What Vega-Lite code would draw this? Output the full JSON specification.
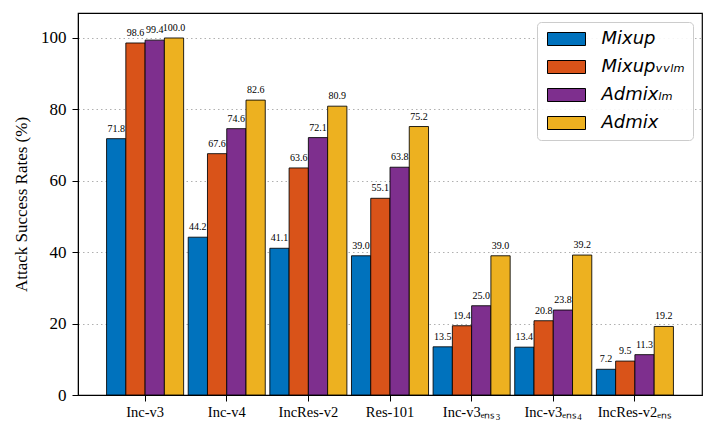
{
  "$schema": "https://vega.github.io/schema/vega-lite/v6.json",
  "autosize": {"type": "none"},
  "padding": {"left": 78, "top": 13, "right": 13, "bottom": 42},
  "width": 624,
  "height": 382,
  "background": "white",
  "config": {
    "view": {"stroke": "black", "strokeWidth": 1.2},
    "axis": {
      "labelFont": "Liberation Serif",
      "titleFont": "Liberation Serif",
      "labelColor": "black",
      "titleColor": "black",
      "domainColor": "black",
      "tickColor": "black",
      "tickSize": 6,
      "titleFontWeight": "normal"
    }
  },
  "data": {
    "values": [
      {"model": "Inc-v3", "method": "Mixup", "value": 71.8},
      {"model": "Inc-v3", "method": "Mixup_wlm", "value": 98.6},
      {"model": "Inc-v3", "method": "Admix_lm", "value": 99.4},
      {"model": "Inc-v3", "method": "Admix", "value": 100.0},
      {"model": "Inc-v4", "method": "Mixup", "value": 44.2},
      {"model": "Inc-v4", "method": "Mixup_wlm", "value": 67.6},
      {"model": "Inc-v4", "method": "Admix_lm", "value": 74.6},
      {"model": "Inc-v4", "method": "Admix", "value": 82.6},
      {"model": "IncRes-v2", "method": "Mixup", "value": 41.1},
      {"model": "IncRes-v2", "method": "Mixup_wlm", "value": 63.6},
      {"model": "IncRes-v2", "method": "Admix_lm", "value": 72.1},
      {"model": "IncRes-v2", "method": "Admix", "value": 80.9},
      {"model": "Res-101", "method": "Mixup", "value": 39.0},
      {"model": "Res-101", "method": "Mixup_wlm", "value": 55.1},
      {"model": "Res-101", "method": "Admix_lm", "value": 63.8},
      {"model": "Res-101", "method": "Admix", "value": 75.2},
      {"model": "Inc-v3_ens3", "method": "Mixup", "value": 13.5},
      {"model": "Inc-v3_ens3", "method": "Mixup_wlm", "value": 19.4},
      {"model": "Inc-v3_ens3", "method": "Admix_lm", "value": 25.0},
      {"model": "Inc-v3_ens3", "method": "Admix", "value": 39.0},
      {"model": "Inc-v3_ens4", "method": "Mixup", "value": 13.4},
      {"model": "Inc-v3_ens4", "method": "Mixup_wlm", "value": 20.8},
      {"model": "Inc-v3_ens4", "method": "Admix_lm", "value": 23.8},
      {"model": "Inc-v3_ens4", "method": "Admix", "value": 39.2},
      {"model": "IncRes-v2_ens", "method": "Mixup", "value": 7.2},
      {"model": "IncRes-v2_ens", "method": "Mixup_wlm", "value": 9.5},
      {"model": "IncRes-v2_ens", "method": "Admix_lm", "value": 11.3},
      {"model": "IncRes-v2_ens", "method": "Admix", "value": 19.2}
    ]
  },
  "encoding": {
    "x": {
      "field": "model",
      "type": "nominal",
      "sort": null,
      "scale": {"paddingInner": 0.056, "paddingOuter": 0.35},
      "axis": {
        "title": null,
        "labelAngle": 0,
        "labelFontSize": 14.5,
        "labelPadding": 4,
        "labelExpr": "replace(replace(replace(datum.label, '_ens3', 'ₑₙₛ₃'), '_ens4', 'ₑₙₛ₄'), '_ens', 'ₑₙₛ')"
      }
    },
    "xOffset": {
      "field": "method",
      "type": "nominal",
      "sort": ["Mixup", "Mixup_wlm", "Admix_lm", "Admix"],
      "scale": {"paddingInner": 0, "paddingOuter": 0}
    },
    "y": {
      "field": "value",
      "type": "quantitative",
      "scale": {"domain": [0, 107], "nice": false},
      "axis": {
        "title": "Attack Success Rates (%)",
        "titleFontSize": 17,
        "titlePadding": 10,
        "labelFontSize": 17,
        "labelPadding": 6,
        "values": [0, 20, 40, 60, 80, 100],
        "grid": true,
        "gridColor": "#b0b0b0",
        "gridDash": [1.5, 3],
        "gridWidth": 1
      }
    }
  },
  "layer": [
    {
      "mark": {"type": "bar", "stroke": "black", "strokeWidth": 1, "strokeOpacity": 0.85},
      "encoding": {
        "color": {
          "field": "method",
          "type": "nominal",
          "sort": ["Mixup", "Mixup_wlm", "Admix_lm", "Admix"],
          "scale": {
            "domain": ["Mixup", "Mixup_wlm", "Admix_lm", "Admix"],
            "range": ["#0072BD", "#D95319", "#7E2F8E", "#EDB120"]
          },
          "legend": {
            "title": null,
            "orient": "top-right",
            "offset": 9,
            "padding": 8,
            "fillColor": "rgba(255,255,255,0.9)",
            "strokeColor": "#cccccc",
            "cornerRadius": 4,
            "symbolType": "M-2.923,-1H2.923V1H-2.923Z",
            "symbolSize": 169,
            "symbolOffset": 12.5,
            "symbolStrokeColor": "black",
            "symbolStrokeWidth": 1,
            "symbolOpacity": 1,
            "labelFont": "DejaVu Sans",
            "labelFontStyle": "italic",
            "labelFontSize": 18,
            "labelColor": "black",
            "labelOffset": 26,
            "rowPadding": 10,
            "labelLimit": 300,
            "labelExpr": "datum.label == 'Mixup_wlm' ? 'Mixupᵥᵥₗₘ' : datum.label == 'Admix_lm' ? 'Admixₗₘ' : datum.label"
          }
        }
      }
    },
    {
      "mark": {"type": "text", "baseline": "bottom", "dy": -5, "font": "Liberation Serif", "fontSize": 10, "color": "black"},
      "encoding": {
        "text": {"field": "value", "type": "quantitative", "format": ".1f"}
      }
    }
  ]
}
